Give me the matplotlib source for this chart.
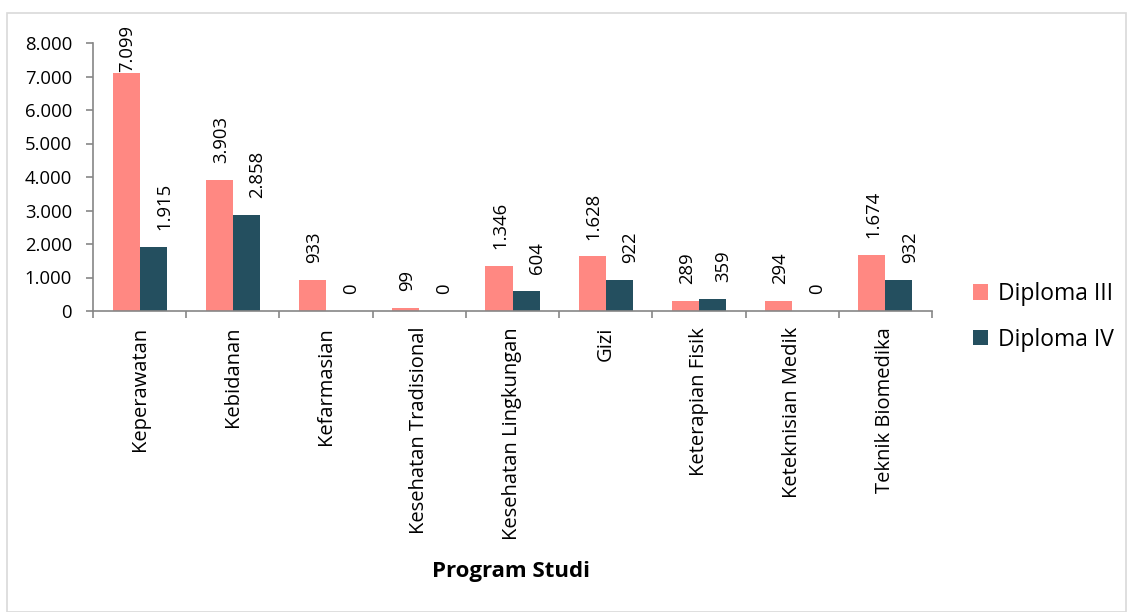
import matplotlib
matplotlib.use("Agg")
import matplotlib.pyplot as plt
import numpy as np
from matplotlib.patches import Rectangle

categories = ["Keperawatan", "Kebidanan", "Kefarmasian", "Kesehatan Tradisional",
              "Kesehatan Lingkungan", "Gizi", "Keterapian Fisik", "Keteknisian Medik",
              "Teknik Biomedika"]
diploma3 = [7099, 3903, 933, 99, 1346, 1628, 289, 294, 1674]
diploma4 = [1915, 2858, 0, 0, 604, 922, 359, 0, 932]
series_names = ["Diploma III", "Diploma IV"]
yticks = [0, 1000, 2000, 3000, 4000, 5000, 6000, 7000, 8000]

def fmt(v):
    return f"{v:,.0f}".replace(",", ".")

plt.rcParams['font.family'] = ['Open Sans', 'DejaVu Sans']
c3 = "#FF8882"
c4 = "#244F5F"
FS = 13.3

fig = plt.figure(figsize=(11.27, 6.12), dpi=100)
fig.patches.append(Rectangle((7/1127, 0), 1 - 7/1127 - 0.0005, 1 - 13/612,
                             transform=fig.transFigure, fill=False,
                             edgecolor="#D9D9D9", linewidth=1.2))
ax = fig.add_axes([93/1127, 1 - 311/612, (932 - 93)/1127, (311 - 43)/612])

x = np.arange(len(categories))
w = 0.29
b3 = ax.bar(x - w/2, diploma3, width=w, color=c3, label=series_names[0])
b4 = ax.bar(x + w/2, diploma4, width=w, color=c4, label=series_names[1])

anns = []
for bars, vals, dx in ((b3, diploma3, 1.0), (b4, diploma4, 8.0)):
    for r, v in zip(bars, vals):
        a = ax.annotate(fmt(v), (r.get_x() + r.get_width()/2, v), xytext=(dx, 12.2),
                        textcoords="offset points", rotation=90, ha="center",
                        va="bottom", fontsize=FS, color="black", annotation_clip=False)
        anns.append((a, dx))

ax.set_xlim(-0.5, len(categories) - 0.5)
ax.set_ylim(0, 8000)
ax.set_yticks(yticks)
ax.set_yticklabels([fmt(v) for v in yticks], fontsize=FS)
ax.set_xticks(x)
ax.set_xticklabels(categories, rotation=90, fontsize=14.5)
ax.set_xticks(np.arange(len(categories) + 1) - 0.5, minor=True)
ax.tick_params(axis="x", which="major", length=0, pad=11.5)
ax.tick_params(axis="x", which="minor", length=5, color="#868686", width=1.2)
ax.tick_params(axis="y", length=5, color="#868686", width=1.2, pad=10)
for s in ("top", "right"):
    ax.spines[s].set_visible(False)
for s in ("left", "bottom"):
    ax.spines[s].set_color("#868686")
    ax.spines[s].set_linewidth(1.2)

fig.text(511/1127, 1 - 572/612, "Program Studi", ha="center", va="center",
         fontsize=16, fontweight="bold")

fig.legend(handles=[b3, b4], labels=series_names, loc="center left",
           bbox_to_anchor=(952/1127, 1 - 317/612), frameon=False, fontsize=16.5,
           handlelength=0.65, handleheight=0.65, labelspacing=0.95, handletextpad=0.45)

# keep labels inside the chart area (top limit 25 px from the top)
fig.canvas.draw()
renderer = fig.canvas.get_renderer()
limit = fig.bbox.height - 25
for a, dx in anns:
    bb = a.get_window_extent(renderer)
    if bb.y1 > limit:
        shift = (bb.y1 - limit) * 72 / fig.dpi
        a.set_position((dx, 12.2 - shift))

fig.savefig("out.png", dpi=100)
